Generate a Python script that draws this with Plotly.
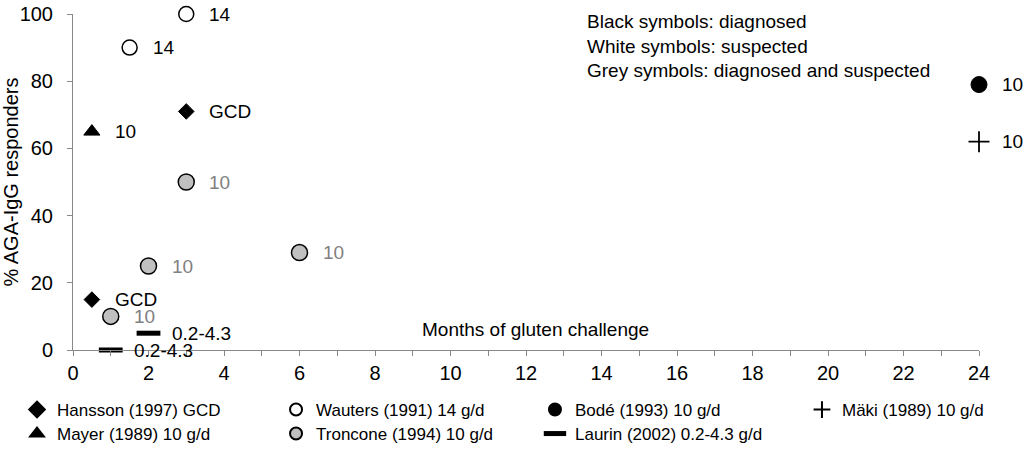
import plotly.graph_objects as go

# Data
series_names = ["Hansson (1997) GCD", "Wauters (1991) 14 g/d", "Bodé (1993) 10 g/d", "Mäki (1989) 10 g/d",
                "Mayer (1989) 10 g/d", "Troncone (1994) 10 g/d", "Laurin (2002) 0.2-4.3 g/d"]
hansson_x = [0.5, 3]
hansson_y = [15, 71]
hansson_lbl = ["GCD", "GCD"]
wauters_x = [1.5, 3]
wauters_y = [90, 100]
wauters_lbl = ["14", "14"]
bode_x = [24]
bode_y = [79]
bode_lbl = ["10"]
maki_x = [24]
maki_y = [62]
maki_lbl = ["10"]
mayer_x = [0.5]
mayer_y = [65]
mayer_lbl = ["10"]
troncone_x = [3, 2, 1, 6]
troncone_y = [50, 25, 10, 29]
troncone_lbl = ["10", "10", "10", "10"]
laurin_x = [1, 2]
laurin_y = [0, 5]
laurin_lbl = ["0.2-4.3", "0.2-4.3"]

x_tickvals = list(range(0, 25))
x_ticktext = [str(v) if v % 2 == 0 else "" for v in x_tickvals]
y_tickvals = [0, 20, 40, 60, 80, 100]

FONT = "Liberation Sans, Arial, sans-serif"

styles = [
    dict(symbol="diamond", size=12, color="black", line=dict(color="black", width=1)),
    dict(symbol="circle", size=15, color="white", line=dict(color="black", width=1.5)),
    dict(symbol="circle", size=16, color="black", line=dict(color="black", width=1)),
    dict(symbol="cross-thin", size=15, color="black", line=dict(color="black", width=1.8)),
    dict(symbol="triangle-up", size=14, color="black", line=dict(color="black", width=1)),
    dict(symbol="circle", size=16, color="#c0c0c0", line=dict(color="black", width=1.5)),
    dict(symbol="line-ew", size=17, color="black", line=dict(color="black", width=5)),
]
data = [
    (hansson_x, hansson_y, hansson_lbl, "black"),
    (wauters_x, wauters_y, wauters_lbl, "black"),
    (bode_x, bode_y, bode_lbl, "black"),
    (maki_x, maki_y, maki_lbl, "black"),
    (mayer_x, mayer_y, mayer_lbl, "black"),
    (troncone_x, troncone_y, troncone_lbl, "#808080"),
    (laurin_x, laurin_y, laurin_lbl, "black"),
]
# legend slot per series (column x, row y in paper coords)
col_x = [-0.0618, 0.2241, 0.5099, 0.8046]
row_y = [-0.1786, -0.25]
legend_slots = [(0, 0), (1, 0), (2, 0), (3, 0), (0, 1), (1, 1), (2, 1)]

fig = go.Figure()
annotations = []
legend_layouts = {}
for i, (name, st, (xs, ys, lbls, tcol)) in enumerate(zip(series_names, styles, data)):
    key = "legend" if i == 0 else f"legend{i + 1}"
    fig.add_trace(go.Scatter(x=xs, y=ys, mode="markers", name=name, marker=st, cliponaxis=False,
                             legend=key))
    c, r = legend_slots[i]
    legend_layouts[key] = dict(x=col_x[c], y=row_y[r], xanchor="left", yanchor="middle",
                               orientation="h", font=dict(family=FONT, size=17, color="black"),
                               itemsizing="trace" if i == 6 else "constant",
                               itemclick=False, bgcolor="rgba(0,0,0,0)")
    for xv, yv, lb in zip(xs, ys, lbls):
        annotations.append(dict(x=xv, y=yv, xref="x", yref="y", text=lb, showarrow=False,
                                xanchor="left", yanchor="middle", xshift=21,
                                font=dict(family=FONT, size=19, color=tcol)))

annotations.append(dict(xref="x", yref="y", x=12.26, y=6, text="Months of gluten challenge",
                        showarrow=False, font=dict(family=FONT, size=19, color="black"),
                        xanchor="center", yanchor="middle"))
annotations.append(dict(xref="paper", yref="paper", x=0.565, y=1.015,
                        text="Black symbols: diagnosed<br>White symbols: suspected<br>Grey symbols: diagnosed and suspected",
                        showarrow=False, align="left", xanchor="left", yanchor="top",
                        font=dict(family=FONT, size=19, color="black")))

fig.update_layout(
    width=1024, height=452,
    paper_bgcolor="white", plot_bgcolor="white",
    margin=dict(l=73, r=45, t=14, b=102, autoexpand=False),
    font=dict(family=FONT, size=18, color="black"),
    annotations=annotations,
    showlegend=True,
    xaxis=dict(range=[0, 24], tickvals=x_tickvals, ticktext=x_ticktext, ticks="outside",
               ticklen=5, tickcolor="#888", showline=True, linecolor="#888", linewidth=1,
               showgrid=False, zeroline=False, tickfont=dict(size=20, family=FONT), automargin=False,
               ticklabeloverflow="allow"),
    yaxis=dict(range=[0, 100], tickvals=y_tickvals, ticks="outside", ticklen=5, tickcolor="#888",
               showline=True, linecolor="#888", linewidth=1, showgrid=False, zeroline=False,
               tickfont=dict(size=20, family=FONT), automargin=False, ticklabelstandoff=10,
               ticklabeloverflow="allow",
               title=dict(text="% AGA-IgG responders", font=dict(size=20, family=FONT), standoff=4)),
    **legend_layouts,
)
fig.write_html("out.html", config={"displayModeBar": False},
               post_script="document.body.style.margin='0';")
